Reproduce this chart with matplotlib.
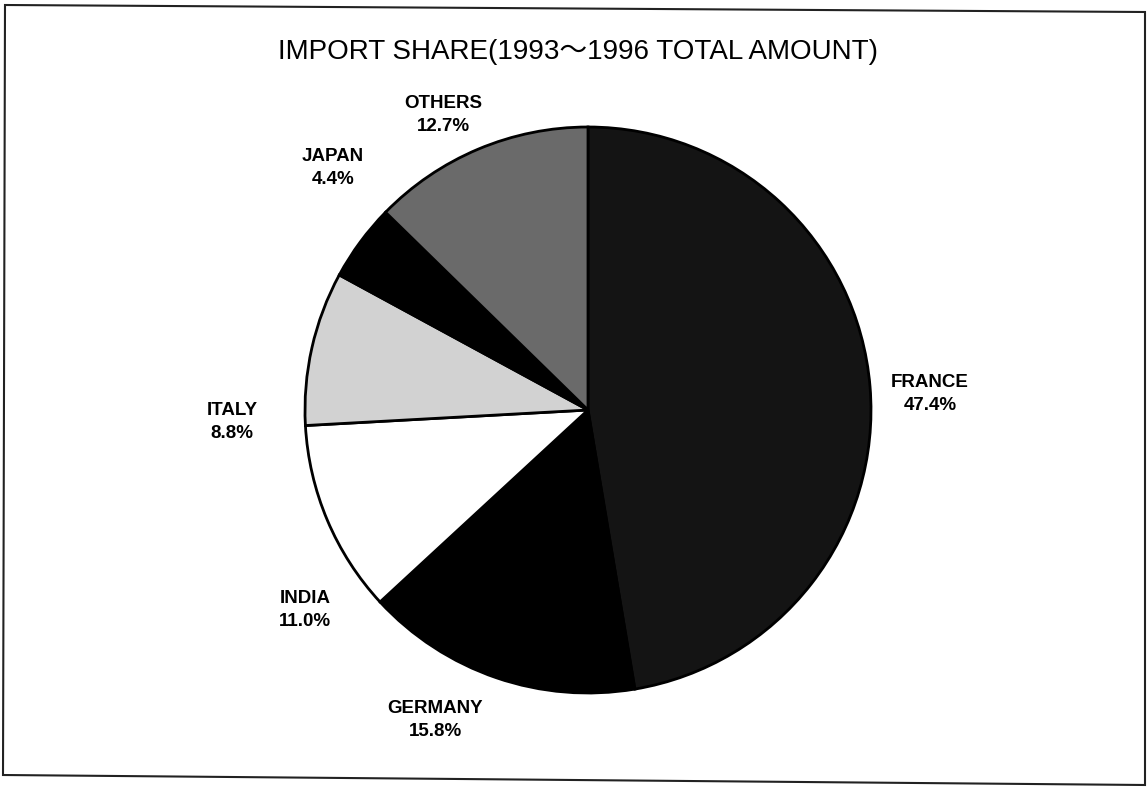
import matplotlib
matplotlib.use("Agg")
from matplotlib import pyplot as plt
from matplotlib.patches import Polygon

# Data
countries = ["FRANCE", "GERMANY", "INDIA", "ITALY", "JAPAN", "OTHERS"]
shares = [47.4, 15.8, 11.0, 8.8, 4.4, 12.7]
colors = ["#141414", "#000000", "#ffffff", "#d2d2d2", "#000000", "#6a6a6a"]

# Label placement (pixel coords, layout only)
label_pos = [(930, 394), (435, 720), (305, 610), (232, 422), (333, 168), (443, 115)]

W, H = 1148, 789
plt.rcParams['font.family'] = ['Liberation Sans', 'Noto Sans CJK JP', 'DejaVu Sans']

fig = plt.figure(figsize=(W / 100, H / 100), dpi=100)
ax = fig.add_axes([0, 0, 1, 1])

# pie is drawn in a flipped y axis, so counterclock=True gives clockwise on screen
ax.pie(shares, colors=colors, startangle=-90, counterclock=True,
       center=(588, 410), radius=283, frame=True,
       wedgeprops=dict(edgecolor='black', linewidth=2))
ax.set_xlim(0, W)
ax.set_ylim(H, 0)
ax.set_aspect('equal')
ax.axis('off')

for name, val, (x, y) in zip(countries, shares, label_pos):
    ax.text(x, y, f"{name}\n{val:.1f}%", ha='center', va='center',
            fontsize=13.5, fontweight='bold', linespacing=1.45)

ax.text(578, 52, "IMPORT SHARE(1993～1996 TOTAL AMOUNT)", ha='center', va='center',
        fontsize=20)

# outer frame (the scan is slightly skewed)
frame = [(5, 5), (1145, 12), (1145, 785), (3, 775)]
ax.add_patch(Polygon(frame, closed=True, fill=False, edgecolor='#222222', linewidth=1.5))

fig.savefig("out.png", dpi=100)
